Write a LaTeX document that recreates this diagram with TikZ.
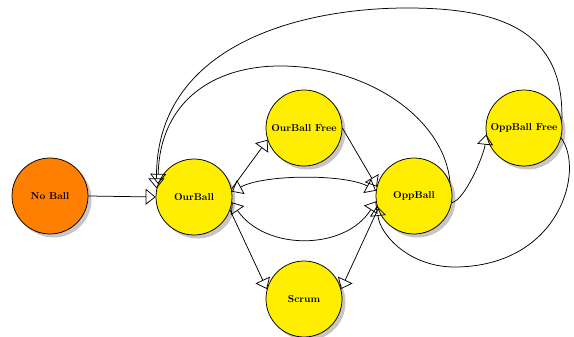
\documentclass[tikz,border=0pt]{standalone}
\usetikzlibrary{arrows.meta,shadows}
\definecolor{stOrange}{RGB}{255,128,0}
\definecolor{stYellow}{RGB}{255,238,0}
\tikzset{
  state/.style={circle,draw=black,line width=0.75pt,minimum size=76pt,inner sep=0pt,
    font=\fontsize{10}{12}\selectfont\bfseries,
    drop shadow={shadow xshift=3.5pt,shadow yshift=-3.5pt,fill=black!28,opacity=0.8}},
  ystate/.style={state,fill=stYellow},
  ostate/.style={state,fill=stOrange},
  tip/.tip={Triangle[open,length=10pt,width=16pt,line width=0.75pt]},
  edge/.style={line width=0.75pt,-tip},
  bedge/.style={line width=0.75pt,tip-tip}
}
\begin{document}
\begin{tikzpicture}[x=1pt,y=-1pt]
\useasboundingbox (0,0) rectangle (574,337);
\node[ostate] (nb) at (50,196) {No Ball};
\node[ystate] (ob) at (194,197) {OurBall};
\node[ystate] (obf) at (304,128) {OurBall Free};
\node[ystate] (opp) at (414,196) {OppBall};
\node[ystate] (oppf) at (524,128) {OppBall Free};
\node[ystate] (sc) at (304,299) {Scrum};

\draw[edge] (nb.east) -- (ob.west);
\draw[edge] (ob.12) -- (obf.198);
\draw[edge] (obf.0) -- (opp.166);
\draw[bedge] (ob.8) .. controls (265,174) and (345,174) .. (opp.172);
\draw[bedge] (opp.188) .. controls (345,251) and (265,251) .. (ob.-8);
\draw[edge] (ob.-20) -- (sc.165);
\draw[edge] (opp.200) -- (sc.15);
\draw[edge] (opp.-10) .. controls (465,200) and (484,155) .. (oppf.190);
\draw[edge] (opp.20) .. controls (445,120) and (370,66) .. (280,66)
  .. controls (215,66) and (160,100) .. (ob.160);
\draw[edge] (oppf.10) .. controls (565,30) and (500,8) .. (407,8)
  .. controls (300,8) and (155,45) .. (ob.167);
\draw[edge] (oppf.-15) .. controls (585,170) and (560,265) .. (457,267)
  .. controls (410,268) and (380,235) .. (opp.195);
\end{tikzpicture}
\end{document}
